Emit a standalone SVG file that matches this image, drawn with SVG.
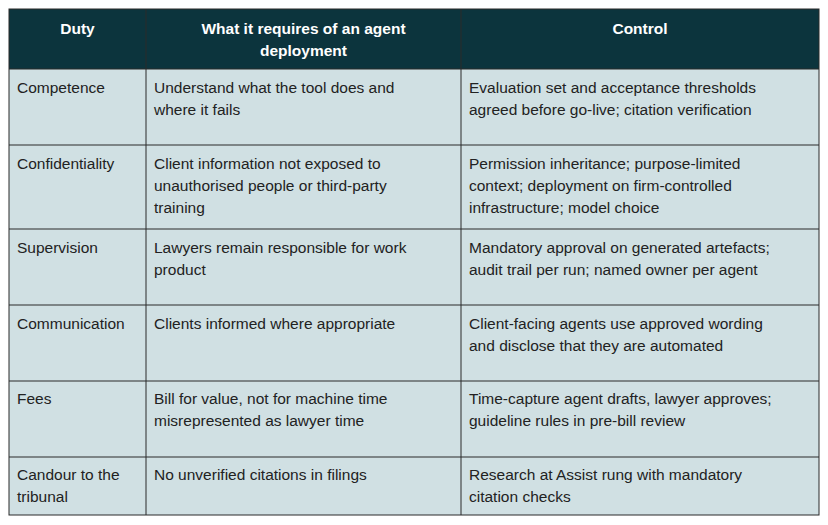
<svg xmlns="http://www.w3.org/2000/svg" width="828" height="525" viewBox="0 0 828 525">
<style>
.h{font:bold 15.5px "Liberation Sans",Arial,sans-serif;fill:#fff;text-anchor:middle}
.t{font:15.5px "Liberation Sans",Arial,sans-serif;fill:#222}
.l{stroke:#2a2a2a;stroke-width:1;fill:none}
</style>
<rect width="828" height="525" fill="#fff"/>
<g id="table">
<rect x="9" y="9" width="810" height="60" fill="#0c343d"/>
<rect x="9" y="69" width="810" height="446" fill="#d0e0e3"/>
</g>
<g id="grid" class="l">
<rect x="9" y="9" width="810" height="506"/>
<path d="M146 9V515M461 9V515M9 69H819M9 145H819M9 229H819M9 305H819M9 381H819M9 457H819"/>
</g>
<g id="header">
<text class="h" x="77.5" y="34">Duty</text>
<text class="h" x="303.5" y="34">What it requires of an agent</text>
<text class="h" x="303.5" y="56">deployment</text>
<text class="h" x="640" y="34">Control</text>
</g>
<g id="rows" class="t">
<text class="t" x="17" y="93">Competence</text>
<text class="t" x="154" y="93">Understand what the tool does and</text>
<text class="t" x="154" y="115">where it fails</text>
<text class="t" x="469" y="93">Evaluation set and acceptance thresholds</text>
<text class="t" x="469" y="115">agreed before go-live; citation verification</text>
<text class="t" x="17" y="169">Confidentiality</text>
<text class="t" x="154" y="169">Client information not exposed to</text>
<text class="t" x="154" y="191">unauthorised people or third-party</text>
<text class="t" x="154" y="213">training</text>
<text class="t" x="469" y="169">Permission inheritance; purpose-limited</text>
<text class="t" x="469" y="191">context; deployment on firm-controlled</text>
<text class="t" x="469" y="213">infrastructure; model choice</text>
<text class="t" x="17" y="253">Supervision</text>
<text class="t" x="154" y="253">Lawyers remain responsible for work</text>
<text class="t" x="154" y="275">product</text>
<text class="t" x="469" y="253">Mandatory approval on generated artefacts;</text>
<text class="t" x="469" y="275">audit trail per run; named owner per agent</text>
<text class="t" x="17" y="329">Communication</text>
<text class="t" x="154" y="329">Clients informed where appropriate</text>
<text class="t" x="469" y="329">Client-facing agents use approved wording</text>
<text class="t" x="469" y="351">and disclose that they are automated</text>
<text class="t" x="17" y="404">Fees</text>
<text class="t" x="154" y="404">Bill for value, not for machine time</text>
<text class="t" x="154" y="426">misrepresented as lawyer time</text>
<text class="t" x="469" y="404">Time-capture agent drafts, lawyer approves;</text>
<text class="t" x="469" y="426">guideline rules in pre-bill review</text>
<text class="t" x="17" y="480">Candour to the</text>
<text class="t" x="17" y="502">tribunal</text>
<text class="t" x="154" y="480">No unverified citations in filings</text>
<text class="t" x="469" y="480">Research at Assist rung with mandatory</text>
<text class="t" x="469" y="502">citation checks</text>
</g>
</svg>
